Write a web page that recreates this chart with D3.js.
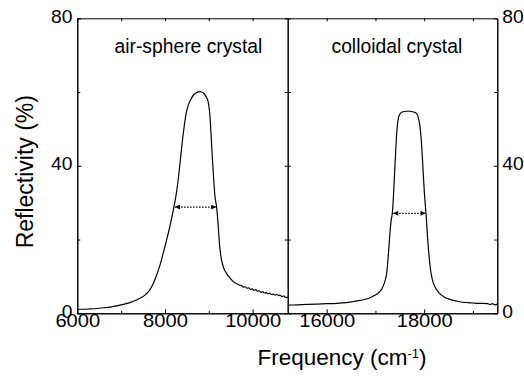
<!DOCTYPE html>
<html>
<head>
<meta charset="utf-8">
<script src="https://cdn.jsdelivr.net/npm/d3@7"></script>
<style>
  html, body { margin: 0; padding: 0; background: #fff; }
  svg { display: block; }
  text { font-family: "Liberation Sans", Arial, Helvetica, sans-serif; fill: #000; }
</style>
</head>
<body>
<svg id="chart" width="524" height="376"></svg>
<script>
// ---------- data ----------
const leftFreq = [6000,6150,6300,6450,6600,6750,6900,7050,7200,7350,7450,7550,7650,7730,7810,7890,7960,8040,8120,8190,8250,8300,8350,8400,8440,8480,8530,8590,8650,8720,8790,8840,8890,8940,8985,9015,9040,9065,9100,9140,9180,9210,9250,9290,9340,9400,9480,9560,9640,9710,9750,9790,9830,9870,9910,9950,9990,10030,10070,10110,10150,10190,10230,10270,10310,10350,10390,10430,10470,10510,10550,10590,10630,10670,10710,10750,10800];
const leftRefl = [1.1,1.1,1.2,1.3,1.5,1.7,2.0,2.4,2.9,3.6,4.2,5.0,6.3,8.0,10.4,13.2,16.3,20.0,24.0,28.0,31.8,36.0,41.5,47.0,50.8,54.0,56.4,58.0,59.2,59.8,60.1,60.0,59.6,58.7,57.4,55.0,51.0,45.5,38.5,31.8,28.6,24.5,18.0,14.5,12.3,10.9,9.6,8.6,8.0,7.6,7.5,7.1,7.2,6.8,6.9,6.5,6.6,6.2,6.4,6.0,6.1,5.7,5.9,5.5,5.6,5.3,5.5,5.1,5.2,4.9,5.1,4.8,4.9,4.5,4.7,4.3,4.4];

const rightFreq = [15200,15400,15600,15800,16000,16200,16400,16550,16700,16850,16950,17050,17130,17190,17230,17260,17290,17320,17350,17380,17410,17440,17465,17500,17550,17620,17700,17780,17840,17880,17910,17940,17970,18000,18040,18070,18100,18130,18170,18220,18300,18400,18500,18600,18700,18800,18900,19000,19100,19200,19300,19350,19400,19450,19500];
const rightRefl = [2.2,2.3,2.4,2.5,2.6,2.7,2.9,3.2,3.5,4.0,4.6,5.4,6.6,8.5,10.8,15.0,20.5,25.0,27.6,34.5,42.5,49.5,52.6,54.0,54.6,54.8,54.8,54.6,54.2,53.0,51.0,47.0,40.5,33.5,26.5,20.5,15.5,11.8,9.0,7.2,5.6,4.5,3.9,3.5,3.2,3.0,2.9,2.8,2.7,2.7,2.6,2.4,2.6,2.3,2.5];

const leftDomain = [6000, 10800];
const rightDomain = [15200, 19500];
const yDomain = [0, 80];

const leftMajorTicks = [6000, 8000, 10000];
const leftMinorTicks = [7000, 9000];
const rightMajorTicks = [16000, 18000];
const rightMinorTicks = [17000, 19000];
const yMajorTicks = [0, 40, 80];
const yMinorTicks = [20, 60];

const leftArrow = [8230, 9170, 28.8];
const rightArrow = [17365, 18030, 27.1];

const leftLabel = "air-sphere crystal";
const rightLabel = "colloidal crystal";
const yTitle = "Reflectivity (%)";
const xTitleMain = "Frequency (cm";
const xTitleSup = "-1";
const xTitleEnd = ")";

// ---------- layout ----------
const svg = d3.select("#chart");
const x0 = 77.3, xMid = 287.7, x1 = 497.3, yTop = 18.3, yBot = 313.3;

const xL = d3.scaleLinear().domain(leftDomain).range([x0, xMid]);
const xR = d3.scaleLinear().domain(rightDomain).range([xMid, x1]);
const y = d3.scaleLinear().domain(yDomain).range([yBot, yTop]);

const fontTick = "17.5px";

function styleAxis(g) {
  g.attr("font-family", null).attr("font-size", null);
  g.select(".domain").attr("stroke", "#000").attr("stroke-width", 1);
  g.selectAll(".tick line").attr("stroke", "#000").attr("stroke-width", 1);
  g.selectAll(".tick text").style("font-size", fontTick);
}

// bottom axes
function bottomLabels(g) { g.selectAll(".tick text").attr("transform", "scale(1.15,1)"); }
svg.append("g").attr("transform", `translate(0,${yBot})`)
  .call(d3.axisBottom(xL).tickValues(leftMajorTicks).tickSizeInner(-4).tickSizeOuter(0).tickPadding(1.5).tickFormat(d3.format("d")))
  .call(styleAxis).call(bottomLabels);
svg.append("g").attr("transform", `translate(0,${yBot})`)
  .call(d3.axisBottom(xL).tickValues(leftMinorTicks).tickSizeInner(-2.5).tickSizeOuter(0).tickFormat(""))
  .call(styleAxis);
svg.append("g").attr("transform", `translate(0,${yBot})`)
  .call(d3.axisBottom(xR).tickValues(rightMajorTicks).tickSizeInner(-4).tickSizeOuter(0).tickPadding(1.5).tickFormat(d3.format("d")))
  .call(styleAxis).call(bottomLabels);
svg.append("g").attr("transform", `translate(0,${yBot})`)
  .call(d3.axisBottom(xR).tickValues(rightMinorTicks).tickSizeInner(-2.5).tickSizeOuter(0).tickFormat(""))
  .call(styleAxis);

// top axes
svg.append("g").attr("transform", `translate(0,${yTop})`)
  .call(d3.axisTop(xL).tickValues(leftMajorTicks.concat(leftMinorTicks)).tickSizeInner(-3).tickSizeOuter(0).tickFormat(""))
  .call(styleAxis);
svg.append("g").attr("transform", `translate(0,${yTop})`)
  .call(d3.axisTop(xR).tickValues(rightMajorTicks.concat(rightMinorTicks)).tickSizeInner(-3).tickSizeOuter(0).tickFormat(""))
  .call(styleAxis);

// left y axis
function yLabels(g) { g.selectAll(".tick text").attr("dy", "0.23em").attr("transform", "scale(1.1,1)"); }
svg.append("g").attr("transform", `translate(${x0},0)`)
  .call(d3.axisLeft(y).tickValues(yMajorTicks).tickSizeInner(-4).tickSizeOuter(0).tickPadding(4.5).tickFormat(d3.format("d")))
  .call(styleAxis).call(yLabels);
svg.append("g").attr("transform", `translate(${x0},0)`)
  .call(d3.axisLeft(y).tickValues(yMinorTicks).tickSizeInner(-3).tickSizeOuter(0).tickFormat(""))
  .call(styleAxis);

// divider ticks both sides
svg.append("g").attr("transform", `translate(${xMid},0)`)
  .call(d3.axisRight(y).tickValues(yMajorTicks.concat(yMinorTicks)).tickSizeInner(-3).tickSizeOuter(0).tickFormat(""))
  .call(styleAxis);
svg.append("g").attr("transform", `translate(${xMid},0)`)
  .call(d3.axisLeft(y).tickValues(yMajorTicks.concat(yMinorTicks)).tickSizeInner(-3).tickSizeOuter(0).tickFormat(""))
  .call(styleAxis);

// right y axis
svg.append("g").attr("transform", `translate(${x1},0)`)
  .call(d3.axisRight(y).tickValues(yMajorTicks).tickSizeInner(-3.5).tickSizeOuter(0).tickPadding(4.5).tickFormat(d3.format("d")))
  .call(styleAxis).call(yLabels);
svg.append("g").attr("transform", `translate(${x1},0)`)
  .call(d3.axisRight(y).tickValues(yMinorTicks).tickSizeInner(-3).tickSizeOuter(0).tickFormat(""))
  .call(styleAxis);

// curves
const lineL = d3.line().x((d, i) => xL(leftFreq[i])).y((d) => y(d)).curve(d3.curveMonotoneX);
const lineR = d3.line().x((d, i) => xR(rightFreq[i])).y((d) => y(d)).curve(d3.curveMonotoneX);

svg.append("path").attr("d", lineL(leftRefl)).attr("fill", "none").attr("stroke", "#000").attr("stroke-width", 1.2);
svg.append("path").attr("d", lineR(rightRefl)).attr("fill", "none").attr("stroke", "#000").attr("stroke-width", 1.2);

// arrows
const defs = svg.append("defs");
function mk(id, orient) {
  defs.append("marker").attr("id", id).attr("viewBox", "0 0 10 10")
    .attr("refX", 10).attr("refY", 5).attr("markerWidth", 6).attr("markerHeight", 5)
    .attr("markerUnits", "userSpaceOnUse").attr("orient", orient)
    .append("path").attr("d", "M0,0 L10,5 L0,10 Z").attr("fill", "#000");
}
mk("arrowEnd", "auto");
mk("arrowStart", "auto-start-reverse");

function drawArrow(scale, a) {
  svg.append("line")
    .attr("x1", scale(a[0])).attr("x2", scale(a[1]))
    .attr("y1", y(a[2])).attr("y2", y(a[2]))
    .attr("stroke", "#000").attr("stroke-width", 1.2)
    .attr("stroke-dasharray", "1.5,1.5")
    .attr("marker-start", "url(#arrowStart)").attr("marker-end", "url(#arrowEnd)");
}
drawArrow(xL, leftArrow);
drawArrow(xR, rightArrow);

// panel labels
svg.append("text").attr("x", 114.5).attr("y", 53).style("font-size", "19.3px").text(leftLabel);
svg.append("text").attr("x", 331.5).attr("y", 53).style("font-size", "19.3px").text(rightLabel);

// axis titles
svg.append("text")
  .attr("transform", "translate(33,171.7) rotate(-90)")
  .attr("text-anchor", "middle")
  .style("font-size", "23px")
  .text(yTitle);

const xt = svg.append("text").attr("x", 342).attr("y", 365).attr("text-anchor", "middle").style("font-size", "22.5px");
xt.append("tspan").text(xTitleMain);
xt.append("tspan").attr("dy", -7).style("font-size", "13px").text(xTitleSup);
xt.append("tspan").attr("dy", 7).text(xTitleEnd);
</script>
</body>
</html>
